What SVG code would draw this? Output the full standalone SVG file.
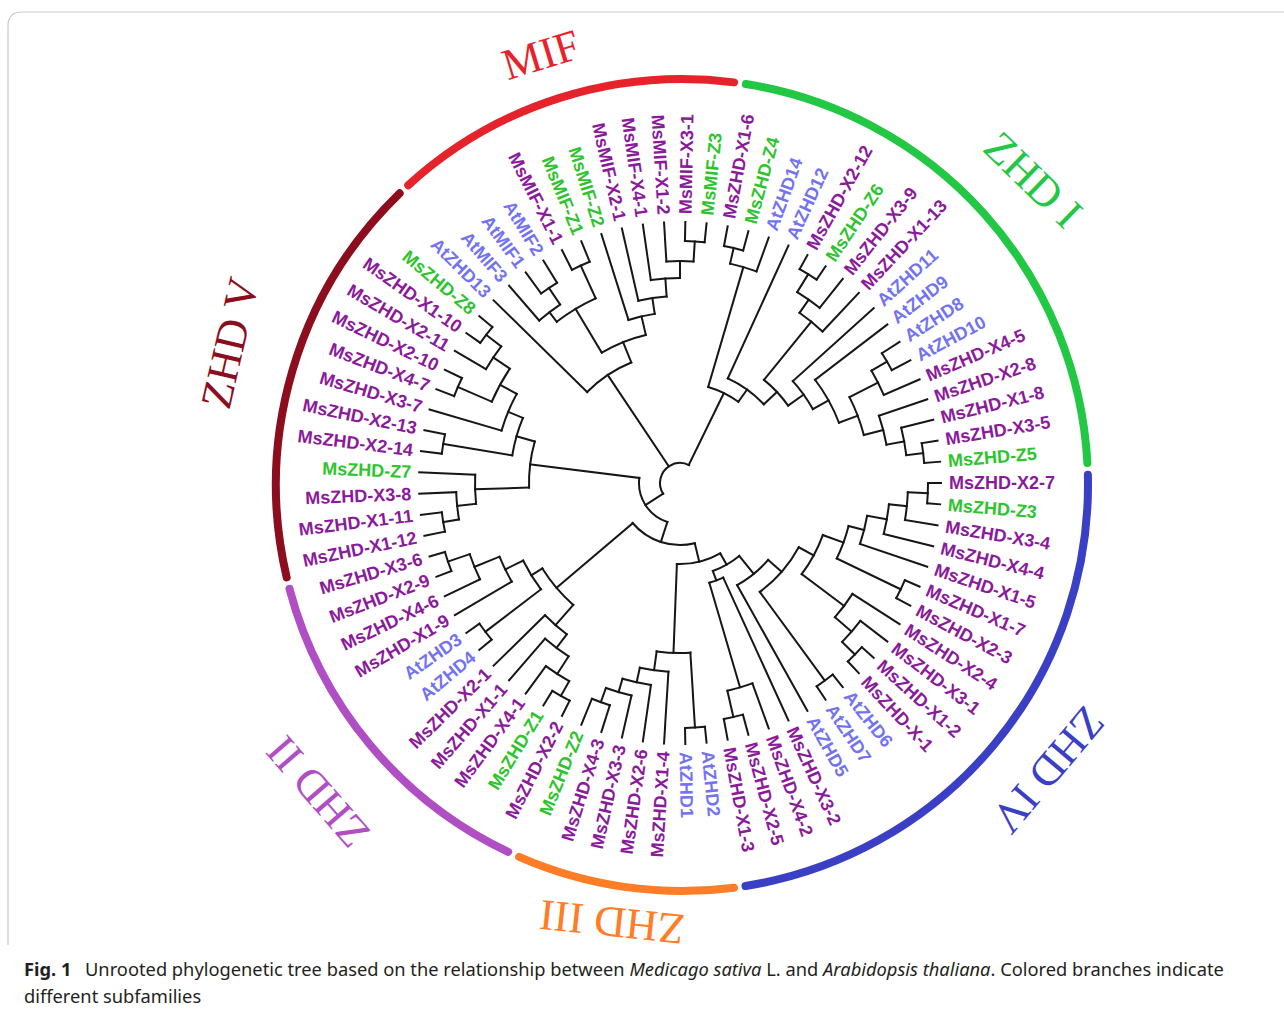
<svg xmlns="http://www.w3.org/2000/svg" width="1284" height="1014" viewBox="0 0 1284 1014">
<style>
.br path,.br circle{fill:none;stroke:#161616;stroke-width:2;stroke-linecap:square}
.lab text{font-family:"Liberation Sans",Arial,sans-serif;font-weight:bold;font-size:18px;dominant-baseline:central}
.lab .f{text-anchor:end}
.p{fill:#8b1a9b}.g{fill:#2ec42e}.b{fill:#7272f2}
.ring circle{fill:none;stroke-width:8;stroke-linecap:round}
.ttl{font-family:"Liberation Serif","Times New Roman",serif;font-size:44px;text-anchor:middle;dominant-baseline:central}
.cap{font-family:"Noto Sans","Open Sans",sans-serif;font-size:18.3px;fill:#231f20}
</style>
<rect width="1284" height="1014" fill="#fff"/>
<path d="M8 945V26Q8 12 22 12H1284" fill="none" stroke="#c9c9c9" stroke-width="1.2"/>
<g id="subfamily-rings" class="ring" transform="translate(682,485)">
<circle r="406" stroke="#8b0d1e" stroke-dasharray="418.43 3000" transform="rotate(166.85)"/>
<circle r="406" stroke="#e6232b" stroke-dasharray="352.53 3000" transform="rotate(227.6)"/>
<circle r="406" stroke="#22c844" stroke-dasharray="551.29 3000" transform="rotate(279.05)"/>
<circle r="406" stroke="#3a3fc6" stroke-dasharray="583.89 3000" transform="rotate(358.55)"/>
<circle r="406" stroke="#ff7d27" stroke-dasharray="219.67 3000" transform="rotate(82.65)"/>
<circle r="406" stroke="#b04ec4" stroke-dasharray="352.88 3000" transform="rotate(115.35)"/>
</g>
<g id="titles">
<text class="ttl" fill="#e6232b" transform="translate(541,55) rotate(-17)">MIF</text>
<text class="ttl" fill="#22c844" transform="translate(1033,180) rotate(44)">ZHD I</text>
<text class="ttl" fill="#3a3fc6" transform="translate(1048,770) rotate(130)">ZHD IV</text>
<text class="ttl" fill="#ff7d27" transform="translate(612,922) rotate(186)">ZHD III</text>
<text class="ttl" fill="#b04ec4" transform="translate(318,792) rotate(229)">ZHD II</text>
<text class="ttl" fill="#8b0d1e" transform="translate(230,343) rotate(-77)">ZHD V</text>
</g>
<g id="connectors" class="br" transform="translate(680,483)">
<circle r="20" stroke-dasharray="51.84 3000" transform="rotate(147.5)"/>
<circle r="41" stroke-dasharray="56.62 3000" transform="rotate(107.96)"/>
<circle r="62" stroke-dasharray="68.66 3000" transform="rotate(76.23)"/>
<circle r="81" stroke-dasharray="45.17 3000" transform="rotate(60.25)"/>
<circle r="94" stroke-dasharray="30.53 3000" transform="rotate(50.94)"/>
<circle r="104" stroke-dasharray="14.87 3000" transform="rotate(65.45)"/>
<circle r="213" stroke-dasharray="26.10 3000" transform="rotate(70.13)"/>
<circle r="240" stroke-dasharray="19.56 3000" transform="rotate(74.81)"/>
<circle r="117" stroke-dasharray="40.19 3000" transform="rotate(41.1)"/>
<circle r="135" stroke-dasharray="59.73 3000" transform="rotate(28.42)"/>
<circle r="245" stroke-dasharray="19.97 3000" transform="rotate(51.43)"/>
<circle r="152" stroke-dasharray="44.57 3000" transform="rotate(20.02)"/>
<circle r="174" stroke-dasharray="34.62 3000" transform="rotate(14.32)"/>
<circle r="190" stroke-dasharray="29.05 3000" transform="rotate(9.94)"/>
<circle r="210" stroke-dasharray="30.02 3000" transform="rotate(5.84)"/>
<circle r="228" stroke-dasharray="27.90 3000" transform="rotate(2.34)"/>
<circle r="248" stroke-dasharray="20.26 3000"/>
<circle r="245" stroke-dasharray="19.97 3000" transform="rotate(23.38)"/>
<circle r="205" stroke-dasharray="29.27 3000" transform="rotate(32.73)"/>
<circle r="227" stroke-dasharray="27.81 3000" transform="rotate(37.4)"/>
<circle r="245" stroke-dasharray="19.97 3000" transform="rotate(42.08)"/>
<circle r="170" stroke-dasharray="33.79 3000" transform="rotate(86.5)"/>
<circle r="245" stroke-dasharray="19.97 3000" transform="rotate(84.16)"/>
<circle r="189" stroke-dasharray="28.90 3000" transform="rotate(93.51)"/>
<circle r="204" stroke-dasharray="29.16 3000" transform="rotate(98.18)"/>
<circle r="218" stroke-dasharray="26.67 3000" transform="rotate(102.86)"/>
<circle r="233" stroke-dasharray="19.03 3000" transform="rotate(107.53)"/>
<circle r="162" stroke-dasharray="47.93 3000" transform="rotate(131.2)"/>
<circle r="189" stroke-dasharray="28.90 3000" transform="rotate(126.82)"/>
<circle r="206" stroke-dasharray="29.41 3000" transform="rotate(122.73)"/>
<circle r="227" stroke-dasharray="27.77 3000" transform="rotate(119.22)"/>
<circle r="244" stroke-dasharray="19.93 3000" transform="rotate(116.88)"/>
<circle r="175" stroke-dasharray="33.90 3000" transform="rotate(142.6)"/>
<circle r="245" stroke-dasharray="20.01 3000" transform="rotate(140.26)"/>
<circle r="195" stroke-dasharray="27.87 3000" transform="rotate(149.61)"/>
<circle r="222" stroke-dasharray="27.16 3000" transform="rotate(154.29)"/>
<circle r="245" stroke-dasharray="20.01 3000" transform="rotate(158.96)"/>
<circle r="151" stroke-dasharray="46.59 3000" transform="rotate(178.25)"/>
<circle r="205" stroke-dasharray="29.27 3000" transform="rotate(174.16)"/>
<circle r="224" stroke-dasharray="27.41 3000" transform="rotate(170.65)"/>
<circle r="240" stroke-dasharray="19.60 3000" transform="rotate(168.31)"/>
<circle r="170" stroke-dasharray="39.02 3000" transform="rotate(189.35)"/>
<circle r="240" stroke-dasharray="19.60 3000" transform="rotate(187.01)"/>
<circle r="186" stroke-dasharray="39.86 3000" transform="rotate(196.36)"/>
<circle r="205" stroke-dasharray="37.64 3000" transform="rotate(203.38)"/>
<circle r="242" stroke-dasharray="19.72 3000" transform="rotate(201.04)"/>
<circle r="225" stroke-dasharray="27.53 3000" transform="rotate(210.39)"/>
<circle r="244" stroke-dasharray="19.93 3000" transform="rotate(215.06)"/>
<circle r="130" stroke-dasharray="53.50 3000" transform="rotate(224.42)"/>
<circle r="152" stroke-dasharray="47.67 3000" transform="rotate(239.03)"/>
<circle r="203" stroke-dasharray="45.53 3000" transform="rotate(232.6)"/>
<circle r="215" stroke-dasharray="26.30 3000" transform="rotate(229.09)"/>
<circle r="235" stroke-dasharray="19.15 3000" transform="rotate(233.77)"/>
<circle r="239" stroke-dasharray="19.48 3000" transform="rotate(243.12)"/>
<circle r="171" stroke-dasharray="26.95 3000" transform="rotate(252.47)"/>
<circle r="187" stroke-dasharray="28.59 3000" transform="rotate(257.14)"/>
<circle r="205" stroke-dasharray="29.27 3000" transform="rotate(261.82)"/>
<circle r="222" stroke-dasharray="27.16 3000" transform="rotate(266.49)"/>
<circle r="242" stroke-dasharray="19.72 3000" transform="rotate(271.17)"/>
<circle r="100" stroke-dasharray="33.70 3000" transform="rotate(286.36)"/>
<circle r="225" stroke-dasharray="27.53 3000" transform="rotate(282.86)"/>
<circle r="241" stroke-dasharray="19.64 3000" transform="rotate(280.52)"/>
<circle r="115" stroke-dasharray="44.66 3000" transform="rotate(294.55)"/>
<circle r="133" stroke-dasharray="35.45 3000" transform="rotate(309.16)"/>
<circle r="208" stroke-dasharray="29.70 3000" transform="rotate(305.07)"/>
<circle r="224" stroke-dasharray="27.41 3000" transform="rotate(301.56)"/>
<circle r="245" stroke-dasharray="20.01 3000" transform="rotate(299.22)"/>
<circle r="152" stroke-dasharray="34.51 3000" transform="rotate(317.92)"/>
<circle r="170" stroke-dasharray="49.40 3000" transform="rotate(322.6)"/>
<circle r="190" stroke-dasharray="40.69 3000" transform="rotate(333.12)"/>
<circle r="222" stroke-dasharray="27.16 3000" transform="rotate(329.61)"/>
<circle r="240" stroke-dasharray="19.60 3000" transform="rotate(327.27)"/>
<circle r="210" stroke-dasharray="29.98 3000" transform="rotate(341.3)"/>
<circle r="228" stroke-dasharray="27.90 3000" transform="rotate(345.97)"/>
<circle r="245" stroke-dasharray="19.97 3000" transform="rotate(350.65)"/>
<path d="M20 0H41" transform="rotate(147.5)"/>
<path d="M20 0H130" transform="rotate(236.2)"/>
<path d="M20 0H100" transform="rotate(296)"/>
<path d="M41 0H62" transform="rotate(107.96)"/>
<path d="M41 0H151" transform="rotate(187.09)"/>
<path d="M62 0H81" transform="rotate(76.23)"/>
<path d="M62 0H162" transform="rotate(139.68)"/>
<path d="M81 0H94" transform="rotate(60.25)"/>
<path d="M81 0H170" transform="rotate(92.2)"/>
<path d="M94 0H117" transform="rotate(50.94)"/>
<path d="M94 0H104" transform="rotate(69.55)"/>
<path d="M104 0H261" transform="rotate(65.45)"/>
<path d="M104 0H213" transform="rotate(73.64)"/>
<path d="M213 0H261" transform="rotate(70.13)"/>
<path d="M213 0H240" transform="rotate(77.15)"/>
<path d="M240 0H261" transform="rotate(74.81)"/>
<path d="M240 0H261" transform="rotate(79.48)"/>
<path d="M117 0H135" transform="rotate(41.1)"/>
<path d="M117 0H261" transform="rotate(60.78)"/>
<path d="M135 0H152" transform="rotate(28.42)"/>
<path d="M135 0H245" transform="rotate(53.77)"/>
<path d="M245 0H261" transform="rotate(51.43)"/>
<path d="M245 0H261" transform="rotate(56.1)"/>
<path d="M152 0H174" transform="rotate(20.02)"/>
<path d="M152 0H205" transform="rotate(36.82)"/>
<path d="M174 0H190" transform="rotate(14.32)"/>
<path d="M174 0H245" transform="rotate(25.72)"/>
<path d="M190 0H210" transform="rotate(9.94)"/>
<path d="M190 0H261" transform="rotate(18.7)"/>
<path d="M210 0H228" transform="rotate(5.84)"/>
<path d="M210 0H261" transform="rotate(14.03)"/>
<path d="M228 0H248" transform="rotate(2.34)"/>
<path d="M228 0H261" transform="rotate(9.35)"/>
<path d="M248 0H261"/>
<path d="M248 0H261" transform="rotate(4.68)"/>
<path d="M245 0H261" transform="rotate(23.38)"/>
<path d="M245 0H261" transform="rotate(28.05)"/>
<path d="M205 0H261" transform="rotate(32.73)"/>
<path d="M205 0H227" transform="rotate(40.91)"/>
<path d="M227 0H261" transform="rotate(37.4)"/>
<path d="M227 0H245" transform="rotate(44.42)"/>
<path d="M245 0H261" transform="rotate(42.08)"/>
<path d="M245 0H261" transform="rotate(46.75)"/>
<path d="M170 0H245" transform="rotate(86.5)"/>
<path d="M170 0H189" transform="rotate(97.89)"/>
<path d="M245 0H261" transform="rotate(84.16)"/>
<path d="M245 0H261" transform="rotate(88.83)"/>
<path d="M189 0H261" transform="rotate(93.51)"/>
<path d="M189 0H204" transform="rotate(102.27)"/>
<path d="M204 0H261" transform="rotate(98.18)"/>
<path d="M204 0H218" transform="rotate(106.37)"/>
<path d="M218 0H261" transform="rotate(102.86)"/>
<path d="M218 0H233" transform="rotate(109.87)"/>
<path d="M233 0H261" transform="rotate(107.53)"/>
<path d="M233 0H261" transform="rotate(112.21)"/>
<path d="M162 0H189" transform="rotate(131.2)"/>
<path d="M162 0H175" transform="rotate(148.15)"/>
<path d="M189 0H206" transform="rotate(126.82)"/>
<path d="M189 0H261" transform="rotate(135.58)"/>
<path d="M206 0H227" transform="rotate(122.73)"/>
<path d="M206 0H261" transform="rotate(130.91)"/>
<path d="M227 0H244" transform="rotate(119.22)"/>
<path d="M227 0H261" transform="rotate(126.23)"/>
<path d="M244 0H261" transform="rotate(116.88)"/>
<path d="M244 0H261" transform="rotate(121.56)"/>
<path d="M175 0H245" transform="rotate(142.6)"/>
<path d="M175 0H195" transform="rotate(153.7)"/>
<path d="M245 0H261" transform="rotate(140.26)"/>
<path d="M245 0H261" transform="rotate(144.94)"/>
<path d="M195 0H261" transform="rotate(149.61)"/>
<path d="M195 0H222" transform="rotate(157.8)"/>
<path d="M222 0H261" transform="rotate(154.29)"/>
<path d="M222 0H245" transform="rotate(161.3)"/>
<path d="M245 0H261" transform="rotate(158.96)"/>
<path d="M245 0H261" transform="rotate(163.64)"/>
<path d="M151 0H205" transform="rotate(178.25)"/>
<path d="M151 0H170" transform="rotate(195.93)"/>
<path d="M205 0H224" transform="rotate(174.16)"/>
<path d="M205 0H261" transform="rotate(182.34)"/>
<path d="M224 0H240" transform="rotate(170.65)"/>
<path d="M224 0H261" transform="rotate(177.66)"/>
<path d="M240 0H261" transform="rotate(168.31)"/>
<path d="M240 0H261" transform="rotate(172.99)"/>
<path d="M170 0H240" transform="rotate(189.35)"/>
<path d="M170 0H186" transform="rotate(202.5)"/>
<path d="M240 0H261" transform="rotate(187.01)"/>
<path d="M240 0H261" transform="rotate(191.69)"/>
<path d="M186 0H261" transform="rotate(196.36)"/>
<path d="M186 0H205" transform="rotate(208.64)"/>
<path d="M205 0H242" transform="rotate(203.38)"/>
<path d="M205 0H225" transform="rotate(213.9)"/>
<path d="M242 0H261" transform="rotate(201.04)"/>
<path d="M242 0H261" transform="rotate(205.71)"/>
<path d="M225 0H261" transform="rotate(210.39)"/>
<path d="M225 0H244" transform="rotate(217.4)"/>
<path d="M244 0H261" transform="rotate(215.06)"/>
<path d="M244 0H261" transform="rotate(219.74)"/>
<path d="M130 0H261" transform="rotate(224.42)"/>
<path d="M130 0H152" transform="rotate(248)"/>
<path d="M152 0H203" transform="rotate(239.03)"/>
<path d="M152 0H171" transform="rotate(257)"/>
<path d="M203 0H215" transform="rotate(232.6)"/>
<path d="M203 0H239" transform="rotate(245.45)"/>
<path d="M215 0H261" transform="rotate(229.09)"/>
<path d="M215 0H235" transform="rotate(236.1)"/>
<path d="M235 0H261" transform="rotate(233.77)"/>
<path d="M235 0H261" transform="rotate(238.44)"/>
<path d="M239 0H261" transform="rotate(243.12)"/>
<path d="M239 0H261" transform="rotate(247.79)"/>
<path d="M171 0H261" transform="rotate(252.47)"/>
<path d="M171 0H187" transform="rotate(261.5)"/>
<path d="M187 0H261" transform="rotate(257.14)"/>
<path d="M187 0H205" transform="rotate(265.9)"/>
<path d="M205 0H261" transform="rotate(261.82)"/>
<path d="M205 0H222" transform="rotate(270)"/>
<path d="M222 0H261" transform="rotate(266.49)"/>
<path d="M222 0H242" transform="rotate(273.5)"/>
<path d="M242 0H261" transform="rotate(271.17)"/>
<path d="M242 0H261" transform="rotate(275.84)"/>
<path d="M100 0H225" transform="rotate(286.36)"/>
<path d="M100 0H115" transform="rotate(305.67)"/>
<path d="M225 0H241" transform="rotate(282.86)"/>
<path d="M225 0H261" transform="rotate(289.87)"/>
<path d="M241 0H261" transform="rotate(280.52)"/>
<path d="M241 0H261" transform="rotate(285.19)"/>
<path d="M115 0H261" transform="rotate(294.55)"/>
<path d="M115 0H133" transform="rotate(316.8)"/>
<path d="M133 0H208" transform="rotate(309.16)"/>
<path d="M133 0H152" transform="rotate(324.43)"/>
<path d="M208 0H224" transform="rotate(305.07)"/>
<path d="M208 0H261" transform="rotate(313.25)"/>
<path d="M224 0H245" transform="rotate(301.56)"/>
<path d="M224 0H261" transform="rotate(308.57)"/>
<path d="M245 0H261" transform="rotate(299.22)"/>
<path d="M245 0H261" transform="rotate(303.9)"/>
<path d="M152 0H261" transform="rotate(317.92)"/>
<path d="M152 0H170" transform="rotate(330.93)"/>
<path d="M170 0H261" transform="rotate(322.6)"/>
<path d="M170 0H190" transform="rotate(339.25)"/>
<path d="M190 0H222" transform="rotate(333.12)"/>
<path d="M190 0H210" transform="rotate(345.39)"/>
<path d="M222 0H240" transform="rotate(329.61)"/>
<path d="M222 0H261" transform="rotate(336.62)"/>
<path d="M240 0H261" transform="rotate(327.27)"/>
<path d="M240 0H261" transform="rotate(331.95)"/>
<path d="M210 0H261" transform="rotate(341.3)"/>
<path d="M210 0H228" transform="rotate(349.48)"/>
<path d="M228 0H261" transform="rotate(345.97)"/>
<path d="M228 0H245" transform="rotate(352.98)"/>
<path d="M245 0H261" transform="rotate(350.65)"/>
<path d="M245 0H261" transform="rotate(355.32)"/>
</g>
<g id="leaves" class="lab" transform="translate(680,483)">
<g id="n1"><text class="p" transform="rotate(280.52) translate(269)">MsZHD-X1-6</text></g>
<g id="n2"><text class="g" transform="rotate(285.19) translate(269)">MsZHD-Z4</text></g>
<g id="n3"><text class="b" transform="rotate(289.87) translate(269)">AtZHD14</text></g>
<g id="n4"><text class="b" transform="rotate(294.55) translate(269)">AtZHD12</text></g>
<g id="n5"><text class="p" transform="rotate(299.22) translate(269)">MsZHD-X2-12</text></g>
<g id="n6"><text class="g" transform="rotate(303.9) translate(269)">MsZHD-Z6</text></g>
<g id="n7"><text class="p" transform="rotate(308.57) translate(269)">MsZHD-X3-9</text></g>
<g id="n8"><text class="p" transform="rotate(313.25) translate(269)">MsZHD-X1-13</text></g>
<g id="n9"><text class="b" transform="rotate(317.92) translate(269)">AtZHD11</text></g>
<g id="n10"><text class="b" transform="rotate(322.6) translate(269)">AtZHD9</text></g>
<g id="n11"><text class="b" transform="rotate(327.27) translate(269)">AtZHD8</text></g>
<g id="n12"><text class="b" transform="rotate(331.95) translate(269)">AtZHD10</text></g>
<g id="n13"><text class="p" transform="rotate(336.62) translate(269)">MsZHD-X4-5</text></g>
<g id="n14"><text class="p" transform="rotate(341.3) translate(269)">MsZHD-X2-8</text></g>
<g id="n15"><text class="p" transform="rotate(345.97) translate(269)">MsZHD-X1-8</text></g>
<g id="n16"><text class="p" transform="rotate(350.65) translate(269)">MsZHD-X3-5</text></g>
<g id="n17"><text class="g" transform="rotate(355.32) translate(269)">MsZHD-Z5</text></g>
<g id="n18"><text class="p" transform="translate(269)">MsZHD-X2-7</text></g>
<g id="n19"><text class="g" transform="rotate(4.68) translate(269)">MsZHD-Z3</text></g>
<g id="n20"><text class="p" transform="rotate(9.35) translate(269)">MsZHD-X3-4</text></g>
<g id="n21"><text class="p" transform="rotate(14.03) translate(269)">MsZHD-X4-4</text></g>
<g id="n22"><text class="p" transform="rotate(18.7) translate(269)">MsZHD-X1-5</text></g>
<g id="n23"><text class="p" transform="rotate(23.38) translate(269)">MsZHD-X1-7</text></g>
<g id="n24"><text class="p" transform="rotate(28.05) translate(269)">MsZHD-X2-3</text></g>
<g id="n25"><text class="p" transform="rotate(32.73) translate(269)">MsZHD-X2-4</text></g>
<g id="n26"><text class="p" transform="rotate(37.4) translate(269)">MsZHD-X3-1</text></g>
<g id="n27"><text class="p" transform="rotate(42.08) translate(269)">MsZHD-X1-2</text></g>
<g id="n28"><text class="p" transform="rotate(46.75) translate(269)">MsZHD-X-1</text></g>
<g id="n29"><text class="b" transform="rotate(51.43) translate(269)">AtZHD6</text></g>
<g id="n30"><text class="b" transform="rotate(56.1) translate(269)">AtZHD7</text></g>
<g id="n31"><text class="b" transform="rotate(60.78) translate(269)">AtZHD5</text></g>
<g id="n32"><text class="p" transform="rotate(65.45) translate(269)">MsZHD-X3-2</text></g>
<g id="n33"><text class="p" transform="rotate(70.13) translate(269)">MsZHD-X4-2</text></g>
<g id="n34"><text class="p" transform="rotate(74.81) translate(269)">MsZHD-X2-5</text></g>
<g id="n35"><text class="p" transform="rotate(79.48) translate(269)">MsZHD-X1-3</text></g>
<g id="n36"><text class="b" transform="rotate(84.16) translate(269)">AtZHD2</text></g>
<g id="n37"><text class="b" transform="rotate(88.83) translate(269)">AtZHD1</text></g>
<g id="n38"><text class="p f" transform="rotate(-86.49) translate(-269)">MsZHD-X1-4</text></g>
<g id="n39"><text class="p f" transform="rotate(-81.82) translate(-269)">MsZHD-X2-6</text></g>
<g id="n40"><text class="p f" transform="rotate(-77.14) translate(-269)">MsZHD-X3-3</text></g>
<g id="n41"><text class="p f" transform="rotate(-72.47) translate(-269)">MsZHD-X4-3</text></g>
<g id="n42"><text class="g f" transform="rotate(-67.79) translate(-269)">MsZHD-Z2</text></g>
<g id="n43"><text class="p f" transform="rotate(-63.12) translate(-269)">MsZHD-X2-2</text></g>
<g id="n44"><text class="g f" transform="rotate(-58.44) translate(-269)">MsZHD-Z1</text></g>
<g id="n45"><text class="p f" transform="rotate(-53.77) translate(-269)">MsZHD-X4-1</text></g>
<g id="n46"><text class="p f" transform="rotate(-49.09) translate(-269)">MsZHD-X1-1</text></g>
<g id="n47"><text class="p f" transform="rotate(-44.42) translate(-269)">MsZHD-X2-1</text></g>
<g id="n48"><text class="b f" transform="rotate(-39.74) translate(-269)">AtZHD4</text></g>
<g id="n49"><text class="b f" transform="rotate(-35.06) translate(-269)">AtZHD3</text></g>
<g id="n50"><text class="p f" transform="rotate(-30.39) translate(-269)">MsZHD-X1-9</text></g>
<g id="n51"><text class="p f" transform="rotate(-25.71) translate(-269)">MsZHD-X4-6</text></g>
<g id="n52"><text class="p f" transform="rotate(-21.04) translate(-269)">MsZHD-X2-9</text></g>
<g id="n53"><text class="p f" transform="rotate(-16.36) translate(-269)">MsZHD-X3-6</text></g>
<g id="n54"><text class="p f" transform="rotate(-11.69) translate(-269)">MsZHD-X1-12</text></g>
<g id="n55"><text class="p f" transform="rotate(-7.01) translate(-269)">MsZHD-X1-11</text></g>
<g id="n56"><text class="p f" transform="rotate(-2.34) translate(-269)">MsZHD-X3-8</text></g>
<g id="n57"><text class="g f" transform="rotate(2.34) translate(-269)">MsZHD-Z7</text></g>
<g id="n58"><text class="p f" transform="rotate(7.01) translate(-269)">MsZHD-X2-14</text></g>
<g id="n59"><text class="p f" transform="rotate(11.69) translate(-269)">MsZHD-X2-13</text></g>
<g id="n60"><text class="p f" transform="rotate(16.36) translate(-269)">MsZHD-X3-7</text></g>
<g id="n61"><text class="p f" transform="rotate(21.04) translate(-269)">MsZHD-X4-7</text></g>
<g id="n62"><text class="p f" transform="rotate(25.71) translate(-269)">MsZHD-X2-10</text></g>
<g id="n63"><text class="p f" transform="rotate(30.39) translate(-269)">MsZHD-X2-11</text></g>
<g id="n64"><text class="p f" transform="rotate(35.06) translate(-269)">MsZHD-X1-10</text></g>
<g id="n65"><text class="g f" transform="rotate(39.74) translate(-269)">MsZHD-Z8</text></g>
<g id="n66"><text class="b f" transform="rotate(44.42) translate(-269)">AtZHD13</text></g>
<g id="n67"><text class="b f" transform="rotate(49.09) translate(-269)">AtMIF3</text></g>
<g id="n68"><text class="b f" transform="rotate(53.77) translate(-269)">AtMIF1</text></g>
<g id="n69"><text class="b f" transform="rotate(58.44) translate(-269)">AtMIF2</text></g>
<g id="n70"><text class="p f" transform="rotate(63.12) translate(-269)">MsMIF-X1-1</text></g>
<g id="n71"><text class="g f" transform="rotate(67.79) translate(-269)">MsMIF-Z1</text></g>
<g id="n72"><text class="g f" transform="rotate(72.47) translate(-269)">MsMIF-Z2</text></g>
<g id="n73"><text class="p f" transform="rotate(77.14) translate(-269)">MsMIF-X2-1</text></g>
<g id="n74"><text class="p f" transform="rotate(81.82) translate(-269)">MsMIF-X4-1</text></g>
<g id="n75"><text class="p f" transform="rotate(86.49) translate(-269)">MsMIF-X1-2</text></g>
<g id="n76"><text class="p" transform="rotate(271.17) translate(269)">MsMIF-X3-1</text></g>
<g id="n77"><text class="g" transform="rotate(275.84) translate(269)">MsMIF-Z3</text></g>
</g>
<g id="caption">
<text class="cap" y="976"><tspan x="24" font-weight="bold">Fig. 1</tspan><tspan x="85">Unrooted phylogenetic tree based on the relationship between </tspan><tspan font-style="italic">Medicago sativa</tspan> L. and <tspan font-style="italic">Arabidopsis thaliana</tspan>. Colored branches indicate</text>
<text class="cap" x="24" y="1003">different subfamilies</text>
</g>
</svg>
